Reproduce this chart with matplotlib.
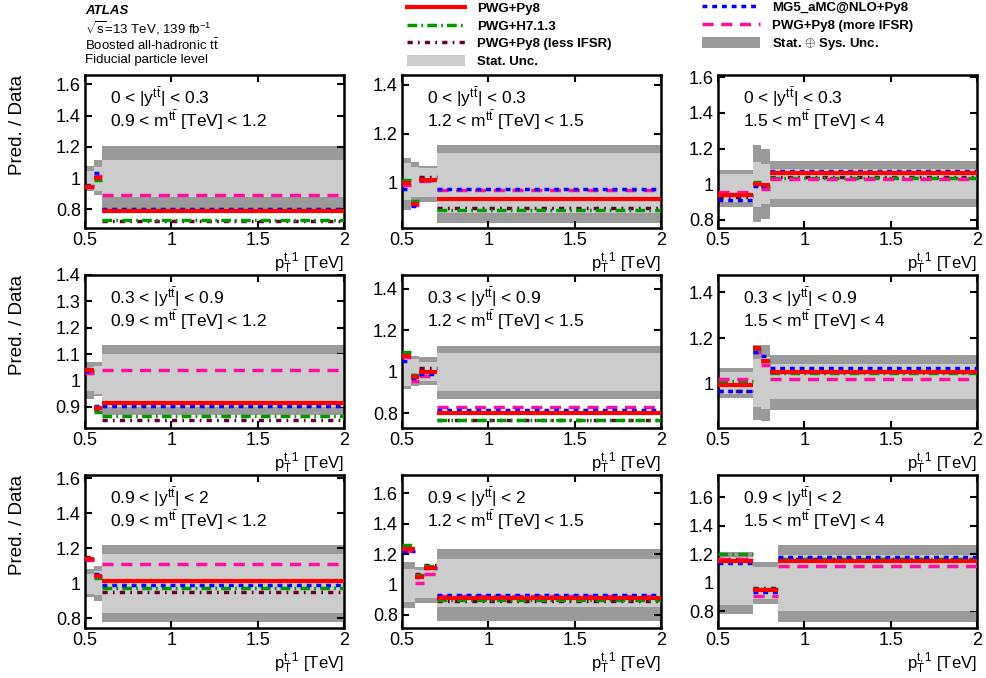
import matplotlib
matplotlib.use("Agg")
import matplotlib.pyplot as plt
from matplotlib.lines import Line2D
from matplotlib.patches import Patch
from matplotlib.ticker import MultipleLocator, FormatStrFormatter
import matplotlib.transforms as mtransforms

plt.rcParams['font.family'] = ['Liberation Sans', 'DejaVu Sans']
plt.rcParams['mathtext.fontset'] = 'custom'
plt.rcParams['mathtext.rm'] = 'Liberation Sans'
plt.rcParams['mathtext.it'] = 'Liberation Sans:italic'
plt.rcParams['mathtext.bf'] = 'Liberation Sans:bold'

# ---------------- data ----------------
y_ranges = [r"0 < |y$^{\mathrm{t\bar{t}}}$| < 0.3", r"0.3 < |y$^{\mathrm{t\bar{t}}}$| < 0.9",
            r"0.9 < |y$^{\mathrm{t\bar{t}}}$| < 2"]
m_ranges = [r"0.9 < m$^{\mathrm{t\bar{t}}}$ [TeV] < 1.2", r"1.2 < m$^{\mathrm{t\bar{t}}}$ [TeV] < 1.5",
            r"1.5 < m$^{\mathrm{t\bar{t}}}$ [TeV] < 4"]

bin_edges = [
    [0.5, 0.55, 0.6, 2.0],
    [0.5, 0.55, 0.6, 0.7, 2.0],
    [0.5, 0.7, 0.75, 0.8, 2.0],
    [0.5, 0.55, 0.6, 2.0],
    [0.5, 0.55, 0.6, 0.7, 2.0],
    [0.5, 0.7, 0.75, 0.8, 2.0],
    [0.5, 0.55, 0.6, 2.0],
    [0.5, 0.575, 0.625, 0.7, 2.0],
    [0.5, 0.7, 0.85, 2.0],
]

tot_lo = [[0.92, 0.89, 0.804], [0.89, 0.927, 0.92, 0.837], [0.873, 0.79, 0.807, 0.873],
          [0.93, 0.94, 0.869], [0.917, 0.933, 0.935, 0.87], [0.937, 0.84, 0.835, 0.884],
          [0.92, 0.90, 0.78], [0.843, 0.876, 0.876, 0.76], [0.78, 0.849, 0.728]]
tot_hi = [[1.08, 1.113, 1.204], [1.10, 1.085, 1.07, 1.153], [1.082, 1.22, 1.20, 1.13],
          [1.07, 1.07, 1.134], [1.076, 1.076, 1.07, 1.127], [1.068, 1.17, 1.17, 1.127],
          [1.08, 1.10, 1.217], [1.148, 1.115, 1.115, 1.235], [1.216, 1.147, 1.267]]
stat_lo = [[0.955, 0.92, 0.88], [0.93, 0.943, 0.94, 0.875], [0.90, 0.873, 0.89, 0.92],
           [0.96, 0.95, 0.90], [0.933, 0.95, 0.957, 0.91], [0.956, 0.90, 0.89, 0.935],
           [0.94, 0.93, 0.83], [0.887, 0.909, 0.909, 0.848], [0.844, 0.89, 0.80]]
stat_hi = [[1.045, 1.07, 1.113], [1.08, 1.065, 1.06, 1.12], [1.06, 1.125, 1.115, 1.088],
           [1.05, 1.056, 1.10], [1.06, 1.06, 1.05, 1.092], [1.05, 1.11, 1.116, 1.087],
           [1.053, 1.07, 1.166], [1.104, 1.093, 1.093, 1.17], [1.18, 1.11, 1.198]]

pwg_py8 = [[0.94, 1.00, 0.787], [1.00, 0.915, 1.01, 0.933], [0.94, 1.00, 0.995, 1.065],
           [1.04, 0.894, 0.915], [1.075, 0.975, 1.00, 0.80], [0.995, 1.155, 1.10, 1.05],
           [1.14, 1.04, 1.01], [1.23, 1.05, 1.11, 0.91], [1.155, 0.95, 1.155]]
pwg_h7 = [[0.95, 0.99, 0.73], [1.01, 0.925, 1.01, 0.89], [0.94, 1.015, 0.99, 1.035],
          [1.035, 0.88, 0.865], [1.095, 0.985, 1.00, 0.77], [1.01, 1.15, 1.10, 1.045],
          [1.14, 1.03, 0.97], [1.26, 1.06, 1.12, 0.895], [1.20, 0.96, 1.17]]
pwg_less = [[0.955, 1.00, 0.724], [1.00, 0.92, 1.025, 0.897], [0.93, 1.00, 0.995, 1.04],
            [1.045, 0.89, 0.85], [1.08, 0.985, 1.02, 0.77], [0.97, 1.15, 1.10, 1.05],
            [1.15, 1.04, 0.95], [1.23, 1.07, 1.13, 0.89], [1.17, 0.965, 1.17]]
mg5 = [[0.95, 1.03, 0.80], [0.975, 0.905, 1.01, 0.975], [0.91, 0.99, 0.99, 1.075],
       [1.035, 0.905, 0.905], [1.055, 0.97, 0.99, 0.815], [0.97, 1.14, 1.12, 1.07],
       [1.14, 1.055, 0.99], [1.22, 1.05, 1.11, 0.93], [1.14, 0.935, 1.18]]
pwg_more = [[0.945, 1.01, 0.89], [0.99, 0.91, 1.005, 0.97], [0.955, 1.00, 0.975, 1.03],
            [1.03, 0.895, 1.04], [1.07, 0.955, 0.98, 0.83], [1.02, 1.14, 1.08, 1.02],
            [1.13, 1.04, 1.11], [1.22, 1.01, 1.07, 0.925], [1.17, 0.905, 1.12]]

y_limits = [(0.68, 1.66), (0.815, 1.44), (0.755, 1.613),
            (0.82, 1.40), (0.73, 1.467), (0.806, 1.476),
            (0.743, 1.62), (0.713, 1.72), (0.684, 1.756)]
y_steps = [0.2, 0.2, 0.2, 0.1, 0.2, 0.2, 0.2, 0.2, 0.2]

# ---------------- styles ----------------
C_TOT = '#9a9a9a'
C_STAT = '#cccccc'
models = [
    ("PWG+Py8 (less IFSR)", pwg_less, dict(color='#660033', lw=2.5, dashes=(1.5, 1.5, 0.5, 1.5))),
    ("PWG+H7.1.3", pwg_h7, dict(color='#009900', lw=2.5, dashes=(2.8, 1.2, 0.5, 1.2))),
    ("PWG+Py8 (more IFSR)", pwg_more, dict(color='#ff0fa0', lw=2.5, dashes=(3.2, 2.2))),
    ("MG5_aMC@NLO+Py8", mg5, dict(color='#0000ff', lw=2.5, dashes=(1.4, 1.4))),
    ("PWG+Py8", pwg_py8, dict(color='#ff0000', lw=3.0, ls='-')),
]

W, H = 986, 678
fig = plt.figure(figsize=(W / 100, H / 100), dpi=100)

col_left = [85, 402, 718]
col_w = 259
row_top = [75, 275, 475]
row_h = 153

for i in range(9):
    r, c = divmod(i, 3)
    ax = fig.add_axes([col_left[c] / W, 1 - (row_top[r] + row_h) / H, col_w / W, row_h / H])
    e = bin_edges[i]
    lefts = e[:-1]
    widths = [e[k + 1] - e[k] for k in range(len(e) - 1)]
    ax.bar(lefts, [h - l for h, l in zip(tot_hi[i], tot_lo[i])], bottom=tot_lo[i],
           width=widths, align='edge', color=C_TOT, lw=0, zorder=1)
    ax.bar(lefts, [h - l for h, l in zip(stat_hi[i], stat_lo[i])], bottom=stat_lo[i],
           width=widths, align='edge', color=C_STAT, lw=0, zorder=2)
    for z, (name, vals, st) in enumerate(models):
        st = dict(st)
        ls = st.pop('ls', None)
        dashes = st.pop('dashes', None)
        for k in range(len(lefts)):
            ln, = ax.plot([e[k], e[k + 1]], [vals[i][k], vals[i][k]], zorder=3 + z,
                          solid_capstyle='butt', dash_capstyle='butt', **st)
            if dashes is not None:
                ln.set_dashes(dashes)
    ax.set_xlim(0.5, 2.0)
    ax.set_ylim(*y_limits[i])
    ax.xaxis.set_major_locator(MultipleLocator(0.5))
    ax.yaxis.set_major_locator(MultipleLocator(y_steps[i]))
    ax.xaxis.set_major_formatter(FormatStrFormatter('%g'))
    ax.yaxis.set_major_formatter(FormatStrFormatter('%g'))
    ax.tick_params(direction='in', top=True, right=True, length=5, width=1.5,
                   labelsize=13, pad=3)
    for sp in ax.spines.values():
        sp.set_linewidth(1.8)
    ax.text(0.095, 0.855, y_ranges[r], transform=ax.transAxes, fontsize=12.5,
            ha='left', va='center')
    ax.text(0.095, 0.705, m_ranges[c], transform=ax.transAxes, fontsize=12.5,
            ha='left', va='center')
    ax.text(1.0, -0.148, r"p$_{\mathrm{T}}^{\mathrm{t,1}}$ [TeV]", transform=ax.transAxes,
            fontsize=12, ha='right', va='top')
    if c == 0:
        tr = mtransforms.blended_transform_factory(fig.transFigure, ax.transAxes)
        ax.text(18 / W, 1.0, "Pred. / Data", transform=tr, rotation=90,
                fontsize=13.5, ha='center', va='top')

# header
fig.text(85 / W, 1 - 11 / H, "ATLAS", fontsize=9.5, fontweight='bold', style='italic',
         ha='left', va='center')
fig.text(85 / W, 1 - 28 / H, r"$\sqrt{\mathrm{s}}$=13 TeV, 139 fb$^{\mathrm{-1}}$", fontsize=9.5,
         ha='left', va='center')
fig.text(85 / W, 1 - 45 / H, r"Boosted all-hadronic t$\mathrm{\bar{t}}$", fontsize=9.5,
         ha='left', va='center')
fig.text(85 / W, 1 - 60 / H, "Fiducial particle level", fontsize=9.5, ha='left', va='center')

# legends
def handle(name):
    for n, _, st in models:
        if n == name:
            st = dict(st)
            dashes = st.pop('dashes', None)
            ls = st.pop('ls', '-')
            h = Line2D([0], [0], ls=ls, **st)
            if dashes is not None:
                h.set_dashes(dashes)
            h.set_dash_capstyle('butt')
            return h

leg_kw = dict(frameon=False, handlelength=4.4, handleheight=0.9,
              handletextpad=0.9, labelspacing=0.35, borderaxespad=0, borderpad=0,
              prop={'weight': 'bold', 'size': 9.5})
h1 = [handle("PWG+Py8"), handle("PWG+H7.1.3"), handle("PWG+Py8 (less IFSR)"),
      Patch(facecolor=C_STAT, edgecolor='none')]
l1 = ["PWG+Py8", "PWG+H7.1.3", "PWG+Py8 (less IFSR)", "Stat. Unc."]
fig.legend(h1, l1, loc='upper left', bbox_to_anchor=(407 / W, 1 - 2 / H), **leg_kw)
h2 = [handle("MG5_aMC@NLO+Py8"), handle("PWG+Py8 (more IFSR)"),
      Patch(facecolor=C_TOT, edgecolor='none')]
l2 = ["MG5_aMC@NLO+Py8", "PWG+Py8 (more IFSR)", "Stat. $\\oplus$ Sys. Unc."]
fig.legend(h2, l2, loc='upper left', bbox_to_anchor=(702 / W, 1 - 1 / H), **leg_kw)

fig.savefig("out.png", dpi=100)
